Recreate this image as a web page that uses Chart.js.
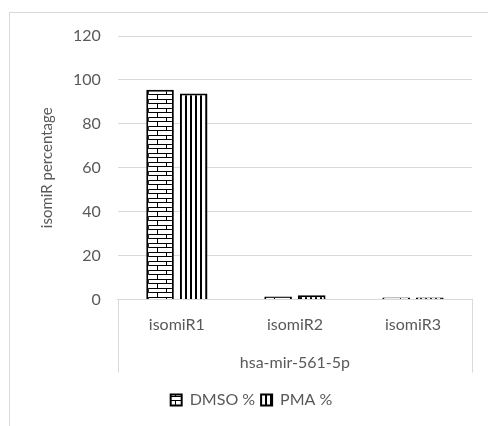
<!DOCTYPE html>
<html>
<head>
<meta charset="utf-8">
<script src="https://cdn.jsdelivr.net/npm/chart.js@4"></script>
<style>
  body { margin: 0; background: #fff; }
  #wrap { position: relative; width: 488px; height: 426px; overflow: hidden; }
  #frame { position: absolute; left: 9px; top: 12px; width: 520px; height: 500px; border: 1px solid #d9d9d9; }
  canvas { position: absolute; left: 0; top: 0; }
</style>
</head>
<body>
<div id="wrap">
  <div id="frame"></div>
  <canvas id="chart" width="488" height="426"></canvas>
</div>
<script>
var categories = ['isomiR1', 'isomiR2', 'isomiR3'];
var groupLabel = 'hsa-mir-561-5p';
var dmsoValues = [95.5, 1.4, 1];
var pmaValues = [93.8, 2, 1];
var seriesNames = ['DMSO %', 'PMA %'];

function brickPattern() {
    var c = document.createElement('canvas');
    c.width = 18; c.height = 9;
    var g = c.getContext('2d');
    g.fillStyle = '#fff';
    g.fillRect(0, 0, 18, 9);
    g.fillStyle = '#000';
    g.fillRect(0, 0, 18, 1);
    g.fillRect(0, 4, 18, 1);
    g.fillRect(4, 0, 1, 4);
    g.fillRect(13, 4, 1, 5);
    return g.createPattern(c, 'repeat');
}

function stripePattern() {
    var c = document.createElement('canvas');
    c.width = 5; c.height = 5;
    var g = c.getContext('2d');
    g.fillStyle = '#fff';
    g.fillRect(0, 0, 5, 5);
    g.fillStyle = '#000';
    g.fillRect(0, 0, 2, 5);
    return g.createPattern(c, 'repeat');
}

// outer separators for the category group, drawn from the x scale
var groupLines = {
    id: 'groupLines',
    afterDraw: function (chart) {
        var ctx = chart.ctx;
        var x = chart.scales.x;
        ctx.save();
        ctx.strokeStyle = '#d9d9d9';
        ctx.lineWidth = 1;
        [x.left, x.right].forEach(function (px) {
            ctx.beginPath();
            ctx.moveTo(Math.round(px) + 0.5, chart.chartArea.bottom);
            ctx.lineTo(Math.round(px) + 0.5, chart.chartArea.bottom + 73);
            ctx.stroke();
        });
        ctx.restore();
    }
};

Chart.defaults.font.family = 'Lato, "Open Sans", sans-serif';
Chart.defaults.color = '#595959';

new Chart(document.getElementById('chart').getContext('2d'), {
    type: 'bar',
    data: {
        labels: categories,
        datasets: [{
            label: seriesNames[0],
            data: dmsoValues,
            backgroundColor: brickPattern(),
            borderColor: '#000',
            borderWidth: 2
        }, {
            label: seriesNames[1],
            data: pmaValues,
            backgroundColor: stripePattern(),
            borderColor: '#000',
            borderWidth: 2
        }]
    },
    options: {
        responsive: false,
        animation: false,
        categoryPercentage: 0.57,
        barPercentage: 0.82,
        layout: { padding: { left: 31, right: 16, top: 36, bottom: 8 } },
        plugins: {
            legend: {
                position: 'bottom',
                labels: {
                    boxWidth: 11,
                    boxHeight: 11,
                    padding: 6,
                    font: { size: 16 },
                    color: '#595959'
                }
            },
            tooltip: { enabled: false }
        },
        scales: {
            x: {
                grid: { display: false },
                border: { display: true, color: '#d9d9d9' },
                ticks: { font: { size: 16 }, padding: 8 },
                title: {
                    display: true,
                    text: groupLabel,
                    font: { size: 16 },
                    padding: { top: 10, bottom: 14 }
                }
            },
            y: {
                min: 0,
                max: 120,
                ticks: { stepSize: 20, font: { size: 16 }, padding: 17 },
                grid: { color: '#d9d9d9', drawTicks: false },
                border: { display: false },
                title: {
                    display: true,
                    text: 'isomiR percentage',
                    font: { size: 15 },
                    padding: { top: 7, bottom: 0 }
                }
            }
        }
    },
    plugins: [groupLines]
});
</script>
</body>
</html>
